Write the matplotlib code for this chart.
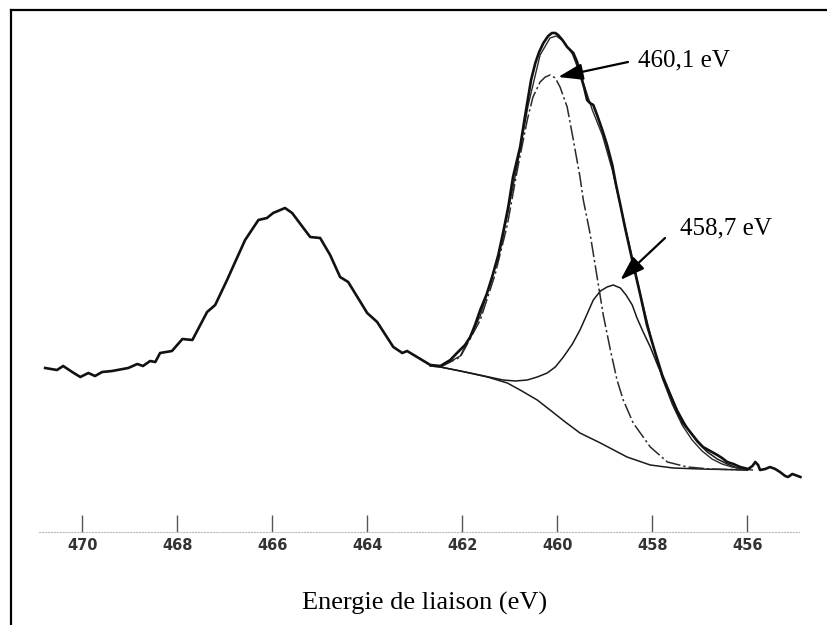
import numpy as np
import matplotlib.pyplot as plt
from matplotlib.lines import Line2D

# Spectre XPS Ti 2p (intensité en u.a.)
e_exp = [470.78, 470.53, 470.40, 470.21, 470.04, 469.87, 469.73, 469.58, 469.37, 469.03,
         468.84, 468.72, 468.57, 468.46, 468.36, 468.11, 467.89, 467.68, 467.37, 467.20,
         466.95, 466.78, 466.57, 466.29, 466.11, 465.98, 465.73, 465.58, 465.20, 464.99,
         464.78, 464.57, 464.40, 464.00, 463.79, 463.45, 463.26, 463.16, 462.95, 462.67,
         462.46, 462.25, 462.11, 461.94, 461.83, 461.73, 461.62, 461.49, 461.37, 461.24,
         461.14, 461.03, 460.93, 460.78, 460.69, 460.61, 460.55, 460.46, 460.38, 460.29,
         460.19, 460.11, 460.04, 459.98, 459.89, 459.79, 459.66, 459.58, 459.52, 459.43,
         459.37, 459.31, 459.24, 459.16, 459.05, 458.95, 458.84, 458.76, 458.67, 458.57,
         458.42, 458.25, 458.11, 457.94, 457.79, 457.62, 457.47, 457.35, 457.20, 457.05,
         456.93, 456.78, 456.63, 456.53, 456.42, 456.29, 456.15, 455.98, 455.89, 455.83,
         455.77, 455.73, 455.62, 455.52, 455.41, 455.31, 455.20, 455.14, 455.05, 454.99,
         454.88]
i_exp = [164, 162, 166, 160, 155, 159, 156, 160, 161, 164,
         168, 166, 171, 170, 179, 181, 193, 192, 220, 227,
         252, 270, 292, 312, 314, 319, 324, 319, 295, 294,
         277, 255, 250, 219, 210, 185, 179, 181, 175, 167,
         166, 172, 179, 187, 195, 207, 222, 237, 255, 277,
         299, 325, 355, 385, 412, 435, 452, 469, 480, 489,
         496, 499, 499, 497, 492, 485, 479, 470, 459, 444,
         432, 429, 427, 417, 402, 387, 367, 347, 327, 304,
         272, 237, 207, 180, 157, 137, 120, 109, 100, 91,
         85, 81, 77, 74, 70, 68, 65, 63, 66, 70,
         67, 62, 63, 65, 63, 60, 56, 55, 58, 57,
         55]

# Enveloppe calculée
e_fit = [462.67, 462.46, 462.04, 461.62, 461.20, 460.88, 460.61, 460.36, 460.15, 460.02,
         459.87, 459.68, 459.47, 459.26, 459.05, 458.84, 458.63, 458.42, 458.21, 458.00,
         457.79, 457.58, 457.37, 457.16, 456.95, 456.74, 456.53, 456.32, 456.11, 455.89]
i_fit = [166, 165, 176, 216, 282, 357, 427, 477, 494, 496,
         491, 478, 452, 422, 397, 362, 318, 274, 230, 190,
         154, 128, 107, 92, 81, 73, 68, 65, 63, 62]

# Fond de Shirley
e_bg = [462.67, 462.46, 462.04, 461.47, 461.05, 460.78, 460.42, 460.15, 459.83, 459.52,
        459.09, 458.53, 458.04, 457.56, 456.99, 456.00]
i_bg = [166, 165, 161, 155, 149, 142, 132, 122, 110, 99,
        89, 75, 67, 64, 63, 62]

# Composante 458,7 eV
e_c1 = [462.46, 461.83, 461.14, 460.88, 460.63, 460.42, 460.21, 460.04, 459.87, 459.68,
        459.52, 459.37, 459.24, 459.09, 458.95, 458.82, 458.67, 458.55, 458.42, 458.32,
        458.19, 458.04, 457.87, 457.68, 457.47, 457.26, 457.05, 456.84, 456.63, 456.42,
        456.21, 456.00]
i_c1 = [165, 159, 152, 151, 152, 155, 159, 165, 175, 188,
        202, 218, 232, 241, 245, 247, 244, 237, 227, 214,
        200, 185, 165, 145, 122, 104, 90, 80, 73, 68,
        64, 62]

# Composante 460,1 eV
e_c2 = [462.46, 462.04, 461.62, 461.31, 461.05, 460.84, 460.63, 460.51, 460.36, 460.25,
        460.15, 460.04, 459.94, 459.79, 459.66, 459.52, 459.45, 459.31, 459.16, 459.03,
        458.88, 458.74, 458.61, 458.40, 458.04, 457.68, 457.26, 456.78, 456.00]
i_c2 = [165, 175, 212, 257, 307, 362, 412, 435, 450, 455,
        457, 454, 445, 425, 392, 355, 332, 299, 255, 217,
        182, 152, 132, 109, 85, 70, 65, 63, 62]

ticks = [470, 468, 466, 464, 462, 460, 458, 456]

# Étiquettes : texte, position du texte, position de la flèche
labels = ['460,1 eV', '458,7 eV']
text_pos = [(458.29, 472), (457.41, 304)]
arrow_from = [(458.51, 470), (457.73, 294)]
arrow_to = [(459.98, 455), (458.67, 252)]

fig = plt.figure(figsize=(8.27, 6.25), dpi=100, facecolor='white')
ax = fig.add_axes([0, 93 / 625, 1, 532 / 625])
ax.patch.set_visible(False)

ax.plot(e_bg, i_bg, color='#1a1a1a', lw=1.1)
ax.plot(e_c1, i_c1, color='#1a1a1a', lw=1.1)
ax.plot(e_c2, i_c2, color='#2a2a2a', lw=1.1, linestyle=(0, (10, 2, 1.5, 2)))
ax.plot(e_fit, i_fit, color='#2a2a2a', lw=1.0)
ax.plot(e_exp, i_exp, color='#111111', lw=1.9)

for txt, tp, a0, a1 in zip(labels, text_pos, arrow_from, arrow_to):
    ax.annotate('', xy=a1, xytext=a0,
                arrowprops=dict(arrowstyle='-|>,head_length=0.75,head_width=0.25',
                                color='black', lw=1.6, mutation_scale=20,
                                shrinkA=0, shrinkB=0))
    ax.text(tp[0], tp[1], txt, ha='left', va='center',
            fontfamily='Liberation Serif', fontsize=18)

ax.set_xlim(471.73, 454.32)
ax.set_ylim(0, 532)
ax.set_xticks(ticks)
ax.set_xticklabels([str(t) for t in ticks])
ax.set_yticks([])
for s in ['top', 'left', 'right']:
    ax.spines[s].set_visible(False)
ax.spines['bottom'].set_linestyle(':')
ax.spines['bottom'].set_color('#bbbbbb')
ax.spines['bottom'].set_bounds(470.9, 454.9)
ax.tick_params(axis='x', direction='in', length=12, width=1, color='#555555',
               pad=4, labelsize=10.5, labelcolor='#333333')
for lab in ax.get_xticklabels():
    lab.set_fontweight('bold')

ax.set_xlabel('Energie de liaison (eV)', fontfamily='Liberation Serif', fontsize=19)
ax.xaxis.set_label_coords(425 / 827, -0.112)

# cadre (haut et gauche)
fig.add_artist(Line2D([10.5 / 827, 1], [1 - 9.5 / 625, 1 - 9.5 / 625], color='black', lw=1.6))
fig.add_artist(Line2D([10.5 / 827, 10.5 / 827], [0, 1 - 9.5 / 625], color='black', lw=1.6))

plt.savefig('out.png', dpi=100, facecolor='white')
